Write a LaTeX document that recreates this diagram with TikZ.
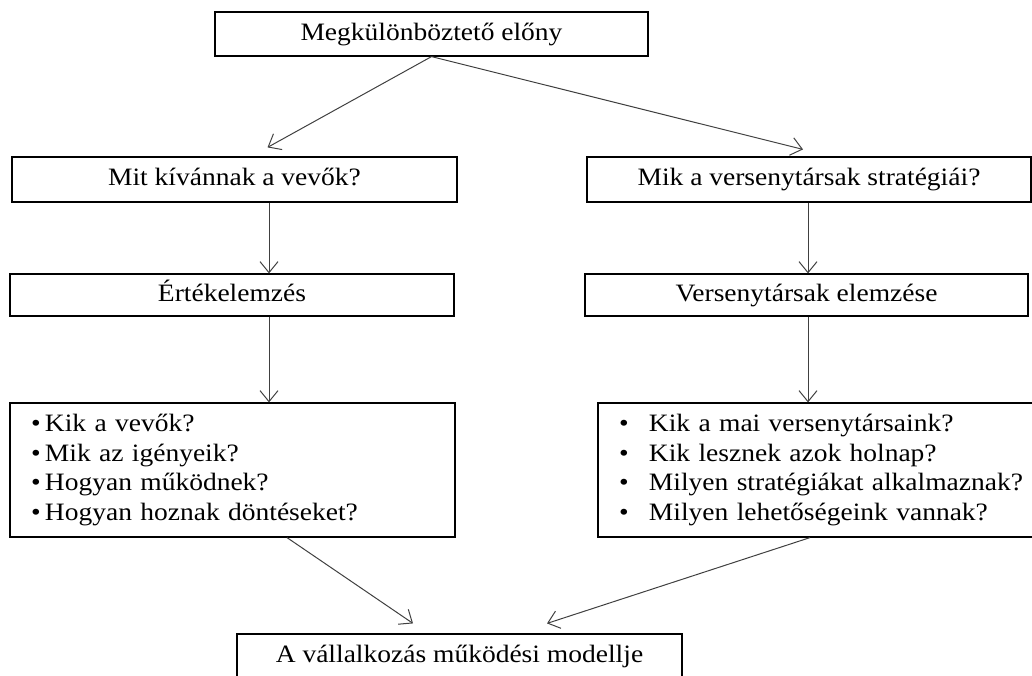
\documentclass[tikz,border=0pt]{standalone}
\usepackage{fontspec}
\setmainfont{Liberation Serif}[FakeStretch=1.1]
\usetikzlibrary{arrows.meta,calc}
\tikzset{every picture/.style={>={Straight Barb[length=11pt,width=18pt]}},
  box/.style={draw, rectangle, line width=1.2pt, inner sep=0pt, minimum height=45pt},
  onebox/.style={box, text height=18pt, text depth=6pt},
  listbox/.style={box, align=left, inner xsep=21pt, minimum height=134pt},
  arr/.style={->, draw=black!75, line width=1pt}}
\newcommand{\bul}[1]{\mbox{\makebox[14pt][l]{\textbullet}#1}}
\newcommand{\tbul}[1]{\mbox{\makebox[30pt][l]{\textbullet}#1}}

\begin{document}
\begin{tikzpicture}[x=1pt,y=-1pt,font=\fontsize{25}{29.5}\selectfont]
  \useasboundingbox (0,0) rectangle (1032,675);
  \clip (0,0) rectangle (1032,675);
  \node[onebox, minimum width=433pt, minimum height=44pt] (a) at (431.5,34) {Megkülönböztető előny};
  \node[onebox, minimum width=445pt] (l1) at (234.5,179.5) {Mit kívánnak a vevők?};
  \node[onebox, minimum width=444pt] (r1) at (809,179.5) {Mik a versenytársak stratégiái?};
  \node[onebox, minimum width=444pt, minimum height=42pt] (l2) at (232,295) {Értékelemzés};
  \node[onebox, minimum width=443pt, minimum height=42pt] (r2) at (806.5,295) {Versenytársak elemzése};
  \node[listbox, text width=403pt] (l3) at (232.5,470)
    {\bul{Kik a vevők?}\\ \bul{Mik az igényeik?}\\ \bul{Hogyan működnek?}\\ \bul{Hogyan hoznak döntéseket?}};
  \node[listbox, text width=400pt] (r3) at (819,470)
    {\tbul{Kik a mai versenytársaink?}\\ \tbul{Kik lesznek azok holnap?}\\
     \tbul{Milyen stratégiákat alkalmaznak?}\\ \tbul{Milyen lehetőségeink vannak?}};
  \node[onebox, minimum width=445pt] (b) at (459.5,656.5) {A vállalkozás működési modellje};
  % connectors
  \coordinate (lc) at (269,0);
  \coordinate (rc) at (808,0);
  \draw[arr] (a.south) -- ([shift={(33pt,9pt)}]l1.north);
  \draw[arr] (a.south) -- ([shift={(-6pt,7pt)}]r1.north);
  \draw[arr] (l1.south -| lc) -- (l2.north -| lc);
  \draw[arr] (l2.south -| lc) -- (l3.north -| lc);
  \draw[arr] (r1.south -| rc) -- (r2.north -| rc);
  \draw[arr] (r2.south -| rc) -- (r3.north -| rc);
  \draw[arr] ([xshift=54.5pt]l3.south) -- ([shift={(-46.5pt,10pt)}]b.north);
  \draw[arr] ([xshift=-9pt]r3.south) -- ([shift={(87.5pt,10pt)}]b.north);
\end{tikzpicture}
\end{document}
